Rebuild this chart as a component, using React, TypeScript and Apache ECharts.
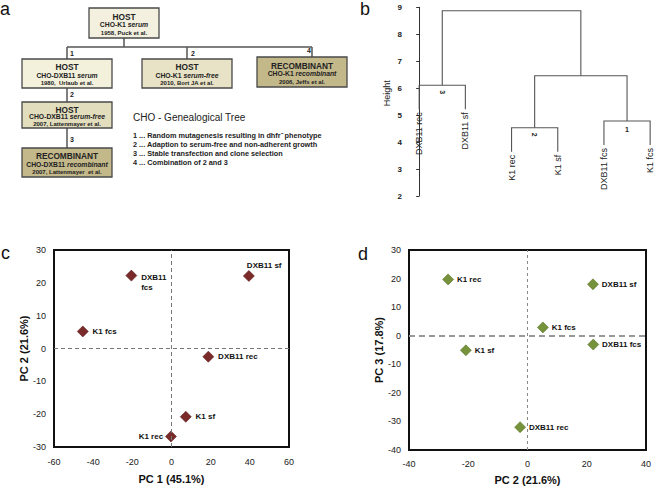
import React, { useEffect, useRef } from "react";
import * as echarts from "echarts";

const FONT = "'Liberation Sans', Arial, Helvetica, sans-serif";

// ---------- panel b : hierarchical clustering ----------
const leafNames = ["DXB11 rec", "DXB11 sf", "K1 rec", "K1 sf", "DXB11 fcs", "K1 fcs"];
// hclust-style merge matrix: negative = leaf (1-based), positive = earlier merge (1-based)
const mergeLeft = [-1, -3, -5, 2, 1];
const mergeRight = [-2, -4, -6, 3, 4];
const mergeHeight = [6.11, 4.53, 4.78, 6.46, 8.87];
const mergeTag = ["3", "2", "1", "", ""];
const leafHang = 0.89;
const heightMin = 2;
const heightMax = 9;

// ---------- panels c, d : PCA ----------
const samples = ["DXB11 sf", "DXB11 fcs", "K1 fcs", "DXB11 rec", "K1 sf", "K1 rec"];
const pc1 = [39.5, -20.5, -45.3, 18.8, 7.3, -0.3];
const pc2 = [22.1, 22.2, 5.2, -2.5, -20.8, -26.8];
const pc3 = [18.0, -3.1, 2.9, -32.0, -5.1, 19.7];

// ---------- panel a : genealogical tree ----------
const boxTitle = ["HOST", "HOST", "HOST", "RECOMBINANT", "HOST", "RECOMBINANT"];
const boxLine = ["CHO-K1", "CHO-DXB11", "CHO-K1", "CHO-K1", "CHO-DXB11", "CHO-DXB11"];
const boxMedium = ["serum", "serum", "serum-free", "recombinant", "serum-free", "recombinant"];
const boxRef = [
  "1958, Puck et al.",
  "1980,  Urlaub et al.",
  "2010, Bort JA et al.",
  "2006, Jeffs et al.",
  "2007, Lattenmayer et al.",
  "2007, Lattenmayer  et al.",
];
const treeTitle = "CHO - Genealogical Tree";
const treeNotes = [
  "1 ... Random mutagenesis resulting in dhfr\u207B phenotype",
  "2 ... Adaption to serum-free and non-adherent growth",
  "3 ... Stable transfection and clone selection",
  "4 ... Combination of 2 and 3",
];

// build dendrogram geometry (data units)
const clusterX: number[] = [];
const dendroSegs: number[][] = [];
const leafBottom: number[] = new Array(leafNames.length).fill(0);
mergeHeight.forEach((h, m) => {
  const child = (ref: number) => {
    if (ref < 0) {
      const idx = -ref - 1;
      leafBottom[idx] = h - leafHang;
      return [idx, h - leafHang];
    }
    return [clusterX[ref - 1], mergeHeight[ref - 1]];
  };
  const l = child(mergeLeft[m]);
  const r = child(mergeRight[m]);
  clusterX[m] = (l[0] + r[0]) / 2;
  dendroSegs.push([l[0], l[1], l[0], h, r[0], h, r[0], r[1]]);
});

function buildTree(): any[] {
  const els: any[] = [];
  const bx = [89, 22, 142, 257, 22, 22];
  const by = [8, 59, 59, 57, 102, 148];
  const bw = [70, 90, 90, 90, 90, 90];
  const bh = [30, 29, 29, 30, 26, 29];
  const fills = ["#f3f0df", "#f3f0dc", "#e8e3c6", "#c2b88a", "#e2ddbd", "#c2b88a"];
  const conns = [
    [124, 38, 124, 47],
    [67, 47, 312, 47],
    [67, 47, 67, 59],
    [187, 47, 187, 59],
    [312, 47, 312, 57],
    [67, 88, 67, 102],
    [67, 128, 67, 148],
  ];
  conns.forEach((c) =>
    els.push({
      type: "line",
      shape: { x1: c[0], y1: c[1], x2: c[2], y2: c[3] },
      style: { stroke: "#555", lineWidth: 1.5 },
    })
  );
  const nums = [
    ["1", 70, 53],
    ["2", 191, 53],
    ["4", 307, 50],
    ["2", 70, 94.5],
    ["3", 70, 139.5],
  ];
  nums.forEach((n) =>
    els.push({
      type: "text",
      x: n[1],
      y: n[2],
      style: { text: n[0], fontSize: 7, fontWeight: "bold", fontFamily: FONT, fill: "#222", align: "left", verticalAlign: "middle" },
    })
  );
  for (let i = 0; i < 6; i++) {
    const cx = bx[i] + bw[i] / 2;
    els.push({
      type: "rect",
      shape: { x: bx[i], y: by[i], width: bw[i], height: bh[i] },
      style: { fill: fills[i], stroke: "#4a4a4a", lineWidth: 1.3 },
    });
    els.push({
      type: "text",
      x: cx,
      y: by[i] + bh[i] * 0.29,
      style: { text: boxTitle[i], fontSize: 8.3, fontWeight: "bold", fontFamily: FONT, fill: "#222", align: "center", verticalAlign: "middle" },
    });
    els.push({
      type: "text",
      x: cx,
      y: by[i] + bh[i] * 0.56,
      style: {
        text: "{n|" + boxLine[i] + " }{i|" + boxMedium[i] + "}",
        align: "center",
        verticalAlign: "middle",
        rich: {
          n: { fontSize: 6.8, fontWeight: "bold", fontFamily: FONT, fill: "#222" },
          i: { fontSize: 6.8, fontWeight: "bold", fontStyle: "italic", fontFamily: FONT, fill: "#222" },
        },
      },
    });
    els.push({
      type: "text",
      x: cx,
      y: by[i] + bh[i] * 0.84,
      style: { text: boxRef[i], fontSize: 6, fontWeight: "bold", fontFamily: FONT, fill: "#222", align: "center", verticalAlign: "middle" },
    });
  }
  els.push({
    type: "text",
    x: 133,
    y: 117,
    style: { text: treeTitle, fontSize: 10, fontFamily: FONT, fill: "#222", align: "left", verticalAlign: "middle" },
  });
  treeNotes.forEach((t, k) =>
    els.push({
      type: "text",
      x: 133,
      y: 135 + k * 9,
      style: { text: t, fontSize: 7.3, fontWeight: "bold", fontFamily: FONT, fill: "#222", align: "left", verticalAlign: "middle" },
    })
  );
  const letters = [
    ["a", 0, 8.8],
    ["b", 360, 8.8],
    ["c", 1, 253],
    ["d", 358, 253.5],
  ];
  letters.forEach((l) =>
    els.push({
      type: "text",
      x: l[1],
      y: l[2],
      style: { text: l[0], fontSize: 18, fontFamily: FONT, fill: "#111", align: "left", verticalAlign: "middle" },
    })
  );
  return els;
}

const axisLabelStyle = { fontSize: 9, color: "#222", fontFamily: FONT };
const axisNameStyle = { fontSize: 11, fontWeight: "bold" as const, color: "#111", fontFamily: FONT };

const cLabel: Record<string, any> = {
  "DXB11 sf": { position: "top", align: "left", distance: 1, offset: [-2, 0] },
  "DXB11 fcs": { position: "right", formatter: "DXB11\nfcs", lineHeight: 10, offset: [0, 7] },
  "K1 rec": { position: "left", distance: 2 },
};

export default function App() {
  const ref = useRef<HTMLDivElement>(null);
  useEffect(() => {
    if (!ref.current) return;
    const chart = echarts.init(ref.current, undefined, { renderer: "svg" });
    const option: any = {
      animation: false,
      textStyle: { fontFamily: FONT },
      grid: [
        { left: 409, top: 7.3, width: 253, height: 188.7 },
        { left: 54, top: 250, width: 235, height: 197, show: true, borderColor: "#111", borderWidth: 2, backgroundColor: "transparent" },
        { left: 409, top: 250, width: 237, height: 200, show: true, borderColor: "#111", borderWidth: 2, backgroundColor: "transparent" },
      ],
      xAxis: [
        { gridIndex: 0, type: "value", min: -0.22, max: 5.17, show: false },
        {
          gridIndex: 1, type: "value", min: -60, max: 60, interval: 20,
          axisLine: { show: false }, axisTick: { show: false }, splitLine: { show: false },
          axisLabel: { ...axisLabelStyle, margin: 10 },
          name: "PC 1 (45.1%)", nameLocation: "middle", nameGap: 26, nameTextStyle: axisNameStyle,
        },
        {
          gridIndex: 2, type: "value", min: -40, max: 40, interval: 20,
          axisLine: { show: false }, axisTick: { show: false }, splitLine: { show: false },
          axisLabel: { ...axisLabelStyle, margin: 9 },
          name: "PC 2 (21.6%)", nameLocation: "middle", nameGap: 24, nameTextStyle: axisNameStyle,
        },
      ],
      yAxis: [
        {
          gridIndex: 0, type: "value", min: heightMin, max: heightMax, interval: 1,
          axisLine: { show: true, lineStyle: { color: "#333", width: 1 } },
          axisTick: { show: true, length: 3, lineStyle: { color: "#333" } },
          splitLine: { show: false },
          axisLabel: { fontSize: 8, fontWeight: "bold", color: "#222", fontFamily: FONT, margin: 7 },
          name: "Height", nameLocation: "middle", nameGap: 18,
          nameTextStyle: { fontSize: 9, color: "#222", fontFamily: FONT, padding: [0, 0, 0, 17] },
        },
        {
          gridIndex: 1, type: "value", min: -30, max: 30, interval: 10,
          axisLine: { show: false }, axisTick: { show: false }, splitLine: { show: false },
          axisLabel: { ...axisLabelStyle, margin: 8 },
          name: "PC 2 (21.6%)", nameLocation: "middle", nameGap: 22, nameTextStyle: axisNameStyle,
        },
        {
          gridIndex: 2, type: "value", min: -40, max: 30, interval: 10,
          axisLine: { show: false }, axisTick: { show: false }, splitLine: { show: false },
          axisLabel: { ...axisLabelStyle, margin: 8 },
          name: "PC 3 (17.8%)", nameLocation: "middle", nameGap: 25, nameTextStyle: axisNameStyle,
        },
      ],
      series: [
        {
          type: "custom",
          xAxisIndex: 0,
          yAxisIndex: 0,
          dimensions: ["x1", "y1", "x2", "y2", "x3", "y3", "x4", "y4"],
          encode: { x: [0, 2, 4, 6], y: [1, 3, 5, 7] },
          data: dendroSegs,
          renderItem: (params: any, api: any) => {
            const i = params.dataIndex;
            const s = dendroSegs[i];
            const pts = [
              api.coord([s[0], s[1]]),
              api.coord([s[2], s[3]]),
              api.coord([s[4], s[5]]),
              api.coord([s[6], s[7]]),
            ];
            const children: any[] = [
              { type: "polyline", shape: { points: pts }, style: { stroke: "#555", lineWidth: 1.1, fill: null } },
            ];
            const tag = mergeTag[i];
            if (tag) {
              children.push({
                type: "text",
                x: (pts[1][0] + pts[2][0]) / 2,
                y: pts[1][1] + (tag === "1" ? 8.5 : 7),
                rotation: tag === "1" ? 0 : -Math.PI / 2,
                style: { text: tag, fontSize: 7, fontWeight: "bold", fontFamily: FONT, fill: "#222", align: "center", verticalAlign: "middle" },
              });
            }
            return { type: "group", children };
          },
        },
        {
          type: "custom",
          xAxisIndex: 0,
          yAxisIndex: 0,
          data: leafNames.map((n, i) => [i, leafBottom[i]]),
          renderItem: (params: any, api: any) => {
            const p = api.coord([api.value(0), api.value(1)]);
            return {
              type: "text",
              x: p[0],
              y: p[1] + 3,
              rotation: Math.PI / 2,
              style: { text: leafNames[params.dataIndex], fontSize: 9, fontFamily: FONT, fill: "#222", align: "right", verticalAlign: "middle" },
            };
          },
        },
        {
          type: "scatter",
          xAxisIndex: 1,
          yAxisIndex: 1,
          symbol: "diamond",
          symbolSize: 11,
          itemStyle: { color: "#7b2a2a", borderColor: "#5a1a1a", borderWidth: 0.6, opacity: 1 },
          label: { show: true, position: "right", distance: 4, formatter: "{b}", fontSize: 8, fontWeight: "bold", color: "#111", fontFamily: FONT },
          data: samples.map((n, i) => ({ name: n, value: [pc1[i], pc2[i]], label: cLabel[n] })),
          markLine: {
            silent: true,
            symbol: ["none", "none"],
            label: { show: false },
            lineStyle: { type: [4, 3], color: "#777", width: 1 },
            data: [{ xAxis: 0 }, { yAxis: 0 }],
          },
        },
        {
          type: "scatter",
          xAxisIndex: 2,
          yAxisIndex: 2,
          symbol: "diamond",
          symbolSize: 11,
          itemStyle: { color: "#76933c", borderColor: "#5a7428", borderWidth: 0.6, opacity: 1 },
          label: { show: true, position: "right", distance: 3, formatter: "{b}", fontSize: 8, fontWeight: "bold", color: "#111", fontFamily: FONT },
          data: samples.map((n, i) => ({ name: n, value: [pc2[i], pc3[i]] })),
          markLine: {
            silent: true,
            symbol: ["none", "none"],
            label: { show: false },
            lineStyle: { type: [3, 3], color: "#888", width: 1 },
            data: [
              { xAxis: 0 },
              { yAxis: 0, lineStyle: { type: [6, 4], color: "#999", width: 2 } },
            ],
          },
        },
      ],
      graphic: buildTree(),
    };
    chart.setOption(option);
    return () => chart.dispose();
  }, []);
  return (
    <div
      ref={ref}
      style={{ position: "fixed", left: 0, top: 0, width: 658, height: 488, background: "#fff" }}
    />
  );
}
